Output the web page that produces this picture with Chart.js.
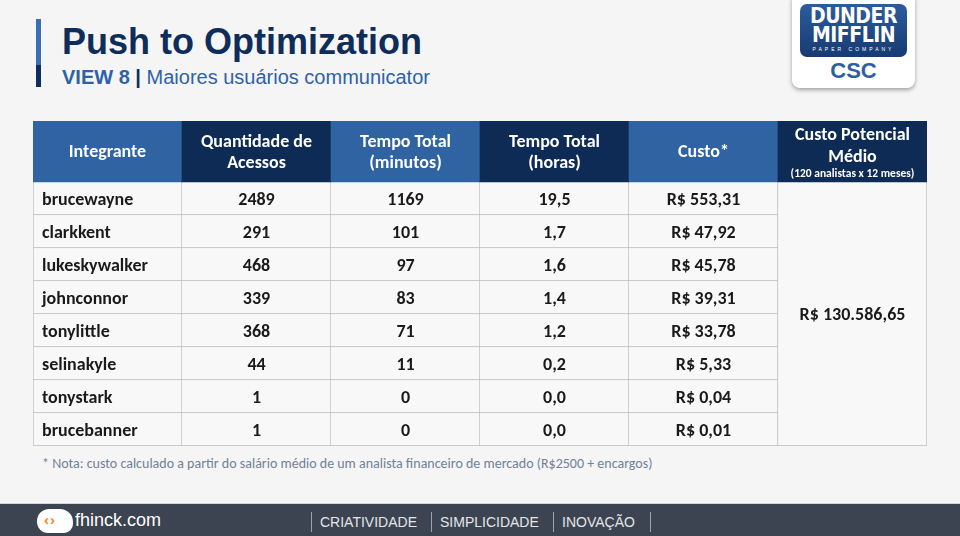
<!DOCTYPE html>
<html>
<head>
<meta charset="utf-8">
<script src="https://cdn.jsdelivr.net/npm/chart.js@4/dist/chart.umd.min.js"></script>
<style>
  html, body { margin: 0; padding: 0; }
  body { width: 960px; height: 536px; background: #f5f5f5; position: relative; overflow: hidden; font-family: "Liberation Sans", Arial, sans-serif; }
  .accent { position: absolute; left: 36px; top: 19px; width: 5px; height: 68px; background: linear-gradient(#3a6fb0 0, #3a6fb0 68%, #0f2d5a 68%); }
  h1 { position: absolute; left: 62px; top: 18px; margin: 0; font-size: 36px; font-weight: bold; color: #0f2d5a; line-height: 48px; }
  .sub { position: absolute; left: 62px; top: 64px; font-size: 20px; color: #2e62a8; line-height: 26px; white-space: nowrap; }
  .sub b { font-weight: bold; }
  .sub .bar { color: #0f2d5a; font-weight: bold; }
  .logo { position: absolute; left: 792px; top: -8px; width: 123px; height: 96px; background: #fff; border-radius: 8px; box-shadow: 0 2px 4px rgba(0,0,0,.35); }
  .logo .plate { position: absolute; left: 8px; top: 12px; width: 107px; height: 53px; border-radius: 7px; background: linear-gradient(#2d5c9e, #173a72); color: #fff; text-align: center; }
  .logo .w { font-family: "DejaVu Sans Condensed", "Liberation Sans Narrow", sans-serif; font-weight: bold; font-size: 21px; line-height: 19px; letter-spacing: -0.5px; }
  .logo .w1 { margin-top: 3px; }
  .logo .pc { font-size: 5px; letter-spacing: 3px; line-height: 9px; }
  .logo .csc { position: absolute; left: 0; width: 123px; top: 66px; text-align: center; color: #2e5fa0; font-weight: bold; font-size: 22px; }
  .wrap { position: absolute; left: 33px; top: 121px; width: 894px; height: 325px; }
  .note { position: absolute; left: 42px; top: 455px; font-family: Carlito, Lato, sans-serif; font-size: 14px; color: #6f8295; white-space: nowrap; }
  .footer { position: absolute; left: 0; top: 503px; width: 960px; height: 33px; background: #3c4451; border-top: 1px solid #d0d4da; }
  .brand { position: absolute; left: 37px; top: 5px; width: 36px; height: 24px; background: #fff; border-radius: 12px 13px 9px 11px; }
  .brand span { position: absolute; left: 7px; top: 2px; font-size: 15px; font-weight: bold; color: #f08a1c; letter-spacing: 1px; }
  .site { position: absolute; left: 75px; top: 6px; color: #fff; font-size: 18px; }
  .menu { position: absolute; top: 10px; color: #e3e6ea; font-size: 14px; }
  .sep { position: absolute; top: 8px; width: 1px; height: 20px; background: #9aa3ae; }
</style>
</head>
<body>
<div class="accent"></div>
<h1>Push to Optimization</h1>
<div class="sub"><b>VIEW 8</b> <span class="bar">|</span> Maiores usuários communicator</div>
<div class="logo">
  <div class="plate">
    <div class="w w1">DUNDER</div>
    <div class="w">MIFFLIN</div>
    <div class="pc">PAPER COMPANY</div>
  </div>
  <div class="csc">CSC</div>
</div>
<div class="wrap"><canvas id="tbl"></canvas></div>
<div class="note">* Nota: custo calculado a partir do salário médio de um analista financeiro de mercado (R$2500 + encargos)</div>
<div class="footer">
  <div class="brand"><span>‹›</span></div>
  <div class="site">fhinck.com</div>
  <div class="sep" style="left:311px"></div>
  <div class="menu" style="left:320px">CRIATIVIDADE</div>
  <div class="sep" style="left:431px"></div>
  <div class="menu" style="left:440px">SIMPLICIDADE</div>
  <div class="sep" style="left:553px"></div>
  <div class="menu" style="left:562px">INOVAÇÃO</div>
  <div class="sep" style="left:650px"></div>
</div>
<script>
const users = ['brucewayne', 'clarkkent', 'lukeskywalker', 'johnconnor', 'tonylittle', 'selinakyle', 'tonystark', 'brucebanner'];
const acessos = [2489, 291, 468, 339, 368, 44, 1, 1];
const minutos = [1169, 101, 97, 83, 71, 11, 0, 0];
const horas = [19.5, 1.7, 1.6, 1.4, 1.2, 0.2, 0.0, 0.0];
const custo = [553.31, 47.92, 45.78, 39.31, 33.78, 5.33, 0.04, 0.01];
const custoPotencial = 130586.65;
const headerLines = [['Integrante'], ['Quantidade de', 'Acessos'], ['Tempo Total', '(minutos)'], ['Tempo Total', '(horas)'], ['Custo*'], ['Custo Potencial', 'Médio']];
const headerNote = '(120 analistas x 12 meses)';

const BLUE = '#2f63a2';
const NAVY = '#0e2b56';
const CELL = '#f8f8f8';
const GRID = '#bdbdbd';
const HEAD = 1.85; // header row is taller than body rows
const FONT = 'Carlito, Lato, sans-serif';

function brl(v) {
  const [i, d] = v.toFixed(2).split('.');
  return 'R$ ' + i.replace(/\B(?=(\d{3})+(?!\d))/g, '.') + ',' + d;
}
function dec1(v) {
  return v.toFixed(1).replace('.', ',');
}

const columns = headerLines.map(l => l.join(' '));
const nRows = users.length;
const bodyText = users.map((u, r) => [u, String(acessos[r]), String(minutos[r]), dec1(horas[r]), brl(custo[r])]);

const cellBorder = ctx => ({ left: ctx.dataIndex === 0 ? 1 : 0, top: 0, right: 1, bottom: 1 });

const datasets = [
  {
    label: 'header',
    data: columns.map(() => [0, HEAD]),
    backgroundColor: columns.map((c, i) => (i % 2 ? NAVY : BLUE)),
    borderWidth: 0
  },
  ...users.map((u, r) => ({
    label: u,
    data: columns.map((c, i) => (i < 5 ? [HEAD + r, HEAD + r + 1] : null)),
    backgroundColor: CELL,
    borderColor: GRID,
    borderWidth: cellBorder
  })),
  {
    label: 'custoPotencial',
    data: columns.map((c, i) => (i === 5 ? [HEAD, HEAD + nRows] : null)),
    backgroundColor: CELL,
    borderColor: GRID,
    borderWidth: { left: 0, top: 0, right: 1, bottom: 1 }
  }
];

const cellText = {
  id: 'cellText',
  afterDatasetsDraw(chart) {
    const { ctx, scales: { x, y } } = chart;
    const colW = x.width / columns.length;
    ctx.save();
    ctx.textBaseline = 'middle';
    ctx.textAlign = 'center';
    ctx.fillStyle = '#ffffff';
    const yc = y.getPixelForValue(HEAD / 2) + 1;
    headerLines.forEach((lines, i) => {
      const cx = x.getPixelForValue(i);
      ctx.font = 'bold 18px ' + FONT;
      if (i === 5) {
        ctx.fillText(lines[0], cx, yc - 17);
        ctx.fillText(lines[1], cx, yc + 5);
        ctx.font = 'bold 11.5px ' + FONT;
        ctx.fillText(headerNote, cx, yc + 22);
      } else if (lines.length === 2) {
        ctx.fillText(lines[0], cx, yc - 10.5);
        ctx.fillText(lines[1], cx, yc + 10.5);
      } else {
        ctx.fillText(lines[0], cx, yc);
      }
    });
    ctx.fillStyle = '#1a1a1a';
    ctx.font = 'bold 18px ' + FONT;
    bodyText.forEach((row, r) => {
      const cy = y.getPixelForValue(HEAD + r + 0.5) + 1.5;
      row.forEach((t, i) => {
        if (i === 0) {
          ctx.textAlign = 'left';
          ctx.fillText(t, x.getPixelForValue(0) - colW / 2 + 9, cy);
        } else {
          ctx.textAlign = 'center';
          ctx.fillText(t, x.getPixelForValue(i), cy);
        }
      });
    });
    ctx.textAlign = 'center';
    ctx.fillText(brl(custoPotencial), x.getPixelForValue(5), y.getPixelForValue(HEAD + nRows / 2) + 1.5);
    ctx.restore();
  }
};

new Chart(document.getElementById('tbl').getContext('2d'), {
  type: 'bar',
  data: { labels: columns, datasets },
  options: {
    responsive: true,
    maintainAspectRatio: false,
    animation: false,
    layout: { padding: 0 },
    datasets: {
      bar: { grouped: false, categoryPercentage: 1, barPercentage: 1, borderSkipped: false }
    },
    plugins: { legend: { display: false }, tooltip: { enabled: false } },
    scales: {
      x: { type: 'category', display: false, offset: true },
      y: { type: 'linear', display: false, reverse: true, min: 0, max: HEAD + nRows }
    }
  },
  plugins: [cellText]
});
</script>
</body>
</html>
